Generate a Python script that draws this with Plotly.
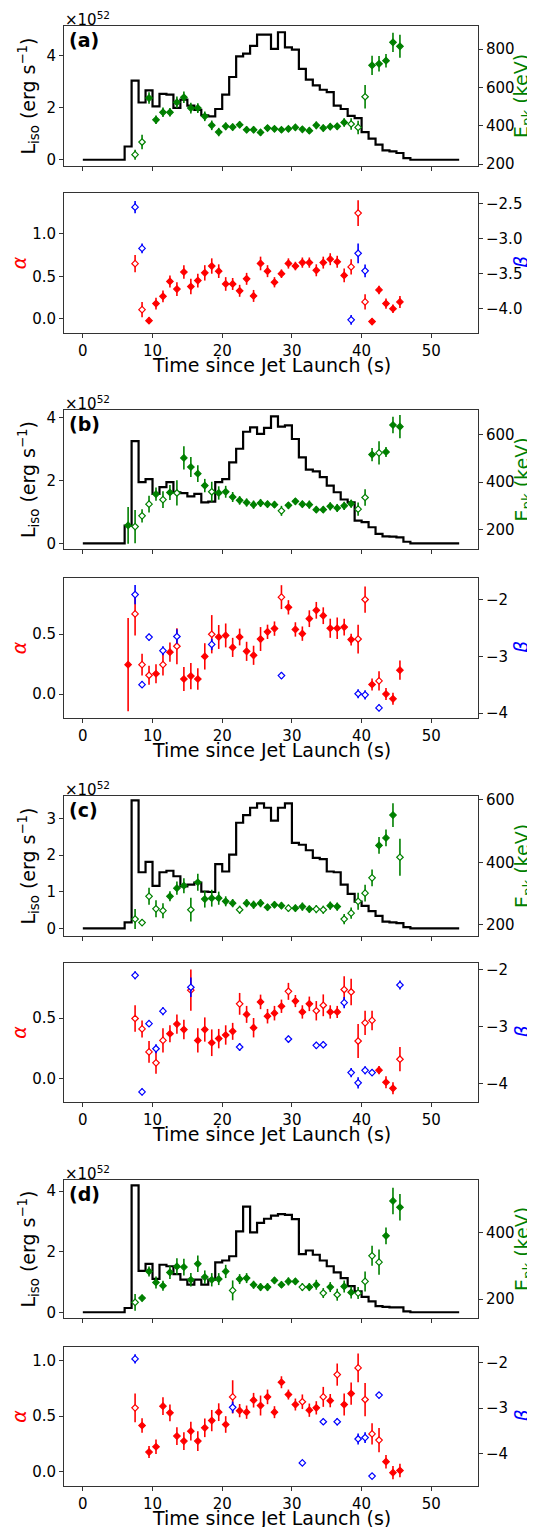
import plotly.graph_objects as go

W, H = 535, 1527
FONT = "DejaVu Sans"

# ---------------- data ----------------
edges = list(range(0, 55))  # 1-s bins, 0..54 s

# L_iso per bin (units of 1e52 erg/s)
liso_a = [0, 0, 0, 0, 0, 0, 0.51, 3.04, 2.2, 2.67, 2.05, 2.53, 2.5, 1.99, 2.31, 2.08, 1.92, 1.71, 1.67, 1.95,
          2.5, 3.18, 3.97, 4.08, 4.38, 4.81, 4.81, 4.26, 4.9, 4.32, 4.23, 3.49, 3.08, 2.86, 2.69, 2.6, 2.08, 1.95,
          1.69, 1.6, 1.06, 0.81, 0.58, 0.36, 0.32, 0.26, 0.06, 0, 0, 0, 0, 0, 0, 0]
liso_b = [0, 0, 0, 0, 0, 0, 0.56, 3.24, 1.94, 2.04, 1.57, 1.78, 1.94, 1.62, 1.59, 1.49, 1.57, 1.30, 1.32, 1.94,
          2.04, 2.57, 3.0, 3.54, 3.68, 3.47, 3.66, 4.03, 3.70, 3.74, 3.31, 2.73, 2.34, 2.28, 2.10, 1.83, 1.62, 1.39,
          1.30, 0.72, 0.67, 0.51, 0.30, 0.22, 0.21, 0.19, 0.05, 0, 0, 0, 0, 0, 0, 0]
liso_c = [0, 0, 0, 0, 0, 0, 0.16, 3.49, 1.53, 1.81, 1.16, 1.53, 1.57, 1.42, 1.14, 1.19, 1.25, 1.00, 0.99, 1.75,
          1.55, 2.01, 2.88, 3.09, 3.29, 3.41, 3.29, 2.94, 3.29, 3.41, 2.33, 2.28, 2.13, 1.92, 1.89, 1.55, 1.53, 1.19,
          0.94, 0.73, 0.61, 0.47, 0.34, 0.18, 0.16, 0.14, 0.03, 0, 0, 0, 0, 0, 0, 0]
liso_d = [0, 0, 0, 0, 0, 0, 0.14, 4.19, 1.37, 1.60, 1.10, 1.57, 1.52, 1.26, 1.08, 0.91, 1.08, 0.91, 1.08, 1.65,
          1.71, 1.85, 2.67, 3.49, 2.64, 2.95, 3.09, 3.19, 3.24, 3.22, 3.08, 1.92, 2.04, 1.90, 1.71, 1.52, 1.32, 1.13,
          0.86, 0.69, 0.51, 0.36, 0.20, 0.18, 0.16, 0.16, 0.03, 0, 0, 0, 0, 0, 0, 0]

# time-resolved spectral parameters
t_a = [7.5 + k for k in range(39)]
t_b = [6.5 + k for k in range(40)]
t_c = [7.5 + k for k in range(39)]
t_d = [7.5 + k for k in range(39)]

epk_a = [249, 315, 544, 431, 470, 470, 522, 548, 492, 492, 449, 402, 367, 397, 393, 405, 379, 379, 365, 388,
         384, 379, 384, 391, 381, 374, 402, 388, 395, 397, 417, 409, 391, 551, 715, 723, 739, 835, 814]
epk_a_err = [26, 38, 30, 22, 25, 22, 30, 30, 28, 25, 25, 25, 22, 20, 18, 18, 18, 18, 18, 15,
             15, 15, 15, 15, 15, 17, 20, 18, 18, 18, 22, 30, 35, 61, 50, 40, 35, 50, 60]
alpha_a = [0.648, 0.109, -0.02, 0.18, 0.265, 0.44, 0.35, 0.55, 0.38, 0.45, 0.54, 0.62, 0.56, 0.41, 0.41, 0.33,
           0.47, 0.27, 0.65, 0.56, 0.43, 0.53, 0.65, 0.62, 0.66, 0.66, 0.57, 0.66, 0.70, 0.67, 0.51, 0.61, 1.24,
           0.20, -0.03, 0.34, 0.18, 0.12, 0.20]
alpha_a_err = [0.10, 0.09, 0.04, 0.07, 0.07, 0.07, 0.08, 0.08, 0.09, 0.08, 0.09, 0.09, 0.08, 0.08, 0.07, 0.07,
               0.07, 0.07, 0.08, 0.07, 0.06, 0.05, 0.06, 0.05, 0.06, 0.06, 0.07, 0.07, 0.07, 0.07, 0.08, 0.09,
               0.15, 0.09, 0.04, 0.05, 0.06, 0.05, 0.07]
band_a = [7.5, 8.5, 38.5, 39.5, 40.5]
beta_a = [-2.55, -3.14, -4.16, -3.21, -3.46]
beta_a_err = [0.086, 0.07, 0.07, 0.14, 0.09]

epk_b = [218, 213, 258, 307, 349, 326, 356, 354, 501, 463, 435, 385, 359, 354, 359, 337, 323, 314, 305, 312,
         307, 305, 279, 302, 319, 307, 305, 284, 284, 298, 291, 300, 309, 286, 335, 515, 522, 526, 639, 632]
epk_b_err = [77, 70, 28, 35, 28, 35, 31, 53, 49, 42, 35, 28, 42, 28, 25, 21, 18, 17, 17, 17,
             14, 14, 21, 14, 14, 14, 17, 14, 14, 17, 17, 17, 17, 28, 35, 28, 49, 21, 35, 49]
alpha_b = [0.246, 0.67, 0.246, 0.157, 0.17, 0.246, 0.35, 0.40, 0.126, 0.15, 0.126, 0.315, 0.50, 0.477, 0.49,
           0.39, 0.477, 0.357, 0.324, 0.46, 0.52, 0.547, 0.81, 0.725, 0.54, 0.505, 0.63, 0.70, 0.655, 0.55, 0.55,
           0.56, 0.455, 0.46, 0.79, 0.08, 0.11, 0.0, -0.04, 0.20]
alpha_b_err = [0.39, 0.18, 0.09, 0.08, 0.08, 0.09, 0.08, 0.15, 0.10, 0.11, 0.09, 0.11, 0.16, 0.10, 0.10, 0.08,
               0.07, 0.08, 0.08, 0.10, 0.06, 0.06, 0.10, 0.06, 0.06, 0.06, 0.07, 0.07, 0.07, 0.08, 0.09, 0.07,
               0.05, 0.12, 0.11, 0.05, 0.08, 0.05, 0.05, 0.08]
band_b = [7.5, 8.5, 9.5, 11.5, 13.5, 18.5, 28.5, 39.5, 40.5, 42.5]
beta_b = [-1.91, -3.50, -2.66, -2.90, -2.65, -2.79, -3.34, -3.66, -3.68, -3.91]
beta_b_err = [0.17, 0.06, 0.06, 0.08, 0.13, 0.10, 0.06, 0.08, 0.08, 0.06]

epk_c = [218, 207, 291, 251, 245, 291, 317, 325, 248, 336, 282, 285, 285, 275, 269, 248, 269, 264, 269, 256,
         264, 261, 253, 253, 258, 250, 250, 248, 261, 258, 218, 237, 275, 301, 350, 454, 478, 551, 416]
epk_c_err = [32, 11, 27, 27, 24, 16, 21, 24, 38, 27, 27, 27, 21, 16, 13, 13, 13, 13, 13, 11,
             11, 11, 11, 11, 13, 11, 13, 13, 13, 13, 16, 18, 27, 27, 27, 27, 27, 38, 59]
alpha_c = [0.496, 0.41, 0.22, 0.13, 0.315, 0.37, 0.45, 0.405, 0.73, 0.315, 0.405, 0.296, 0.33, 0.36, 0.39,
           0.617, 0.53, 0.42, 0.633, 0.515, 0.54, 0.597, 0.72, 0.64, 0.55, 0.617, 0.56, 0.605, 0.55, 0.55, 0.735,
           0.715, 0.31, 0.46, 0.48, 0.07, -0.03, -0.08, 0.16]
alpha_c_err = [0.11, 0.07, 0.09, 0.09, 0.10, 0.07, 0.08, 0.08, 0.17, 0.10, 0.10, 0.11, 0.08, 0.08, 0.07, 0.09,
               0.07, 0.08, 0.06, 0.06, 0.06, 0.055, 0.07, 0.05, 0.055, 0.06, 0.08, 0.09, 0.055, 0.05, 0.11, 0.11,
               0.14, 0.10, 0.08, 0.035, 0.05, 0.05, 0.10]
band_c = [7.5, 8.5, 9.5, 10.5, 11.5, 15.5, 22.5, 29.5, 33.5, 34.5, 37.5, 38.5, 39.5, 40.5, 41.5, 45.5]
beta_c = [-2.10, -4.15, -2.95, -3.39, -2.73, -2.31, -3.36, -3.22, -3.33, -3.32, -2.58, -3.81, -3.99, -3.77,
          -3.81, -2.27]
beta_c_err = [0.07, 0.06, 0.05, 0.08, 0.07, 0.17, 0.07, 0.06, 0.06, 0.06, 0.10, 0.08, 0.10, 0.07, 0.06, 0.08]

epk_d = [190, 203, 283, 250, 240, 280, 298, 296, 258, 306, 266, 258, 260, 283, 226, 260, 263, 243, 236, 236,
         256, 243, 253, 253, 236, 236, 243, 218, 236, 213, 238, 220, 218, 253, 330, 311, 390, 495, 476]
epk_d_err = [25, 10, 15, 18, 15, 20, 25, 25, 20, 25, 20, 20, 18, 20, 30, 15, 15, 12, 12, 12,
             10, 10, 12, 10, 12, 12, 15, 15, 15, 18, 18, 18, 18, 30, 30, 38, 25, 40, 40]
alpha_d = [0.575, 0.416, 0.176, 0.224, 0.59, 0.53, 0.32, 0.275, 0.365, 0.275, 0.395, 0.46, 0.536, 0.425, 0.674,
           0.55, 0.536, 0.644, 0.596, 0.674, 0.536, 0.806, 0.695, 0.605, 0.63, 0.554, 0.575, 0.674, 0.64, 0.875,
           0.605, 0.704, 0.935, 0.65, 0.34, 0.284, 0.089, -0.01, 0.01]
alpha_d_err = [0.13, 0.066, 0.054, 0.066, 0.08, 0.075, 0.08, 0.08, 0.084, 0.09, 0.084, 0.096, 0.08, 0.075, 0.15,
               0.06, 0.06, 0.066, 0.09, 0.066, 0.054, 0.054, 0.045, 0.054, 0.066, 0.06, 0.06, 0.09, 0.06, 0.10,
               0.10, 0.10, 0.13, 0.15, 0.096, 0.11, 0.06, 0.06, 0.06]
band_d = [7.5, 21.5, 31.5, 34.5, 36.5, 39.5, 40.5, 41.5, 42.5]
beta_d = [-1.91, -2.98, -4.21, -3.30, -3.30, -3.68, -3.65, -4.50, -2.71]
beta_d_err = [0.10, 0.125, 0.05, 0.07, 0.08, 0.12, 0.12, 0.06, 0.07]

panel_labels = ["(a)", "(b)", "(c)", "(d)"]
x_ticks = [0, 10, 20, 30, 40, 50]

# ---------------- layout settings ----------------
BOX_X = (56, 470)
boxes = [((18, 158), (185, 325)),
         ((402, 541), (570, 710)),
         ((788, 928), (955, 1094)),
         ((1172, 1310), (1339, 1478))]
liso_rng = [[-0.24, 5.14], [-0.18, 4.23], [-0.21, 3.61], [-0.19, 4.37]]
liso_ticks = [[0, 2, 4], [0, 2, 4], [0, 1, 2, 3], [0, 2, 4]]
epk_rng = [[190, 920], [119, 702], [164, 612], [143, 558]]
epk_ticks = [[200, 400, 600, 800], [200, 400, 600], [200, 400, 600], [200, 400]]
alpha_rng = [[-0.164, 1.475], [-0.20, 0.97], [-0.193, 0.954], [-0.13, 1.124]]
alpha_ticks = [[0.0, 0.5, 1.0], [0.0, 0.5], [0.0, 0.5], [0.0, 0.5, 1.0]]
beta_rng = [[-4.348, -2.348], [-4.088, -1.618], [-4.327, -1.883], [-4.72, -1.647]]
beta_ticks = [[-2.5, -3.0, -3.5, -4.0], [-2, -3, -4], [-2, -3, -4], [-2, -3, -4]]
beta_fmt = ["{:.1f}", "{:.0f}", "{:.0f}", "{:.0f}"]

panels = [
    (liso_a, t_a, epk_a, epk_a_err, alpha_a, alpha_a_err, band_a, beta_a, beta_a_err),
    (liso_b, t_b, epk_b, epk_b_err, alpha_b, alpha_b_err, band_b, beta_b, beta_b_err),
    (liso_c, t_c, epk_c, epk_c_err, alpha_c, alpha_c_err, band_c, beta_c, beta_c_err),
    (liso_d, t_d, epk_d, epk_d_err, alpha_d, alpha_d_err, band_d, beta_d, beta_d_err),
]

TS = 15   # tick font size
LS = 19   # axis-label font size
AX = "#333333"
GREEN, RED, BLUE = "#008000", "#ff0000", "#0000ff"


def px(xp):
    return xp / W


def py(yp):
    return 1 - yp / H


def axname(n, kind):
    return kind if n == 1 else f"{kind}{n}"


fig = go.Figure()
layout = dict(width=W, height=H, margin=dict(l=0, r=0, t=0, b=0), showlegend=False,
              paper_bgcolor="white", plot_bgcolor="white",
              font=dict(family=FONT, size=TS, color="black"))
annotations = []

common_axis = dict(showgrid=False, zeroline=False, showline=True, linecolor=AX, linewidth=1,
                   ticks="outside", ticklen=4, tickwidth=1, tickcolor=AX, automargin=False,
                   tickfont=dict(family=FONT, size=TS, color="black"))


def err_trace(x, y, err, color, filled, xa, ya, xerr=0.3):
    return go.Scatter(
        x=x, y=y, mode="markers", xaxis=xa, yaxis=ya,
        error_y=dict(type="data", array=err, color=color, thickness=1.6, width=0),
        error_x=dict(type="constant", value=xerr, color=color, thickness=1.6, width=0),
        marker=dict(symbol="diamond", size=5,
                    color=[color if f else "white" for f in filled],
                    line=dict(color=color, width=1.2)),
        hoverinfo="skip")


def ann(text, x, y, size, color="black", angle=0, xanchor="center", yanchor="middle"):
    return dict(text=text, x=px(x), y=py(y), xref="paper", yref="paper", xanchor=xanchor,
                yanchor=yanchor, textangle=angle, showarrow=False,
                font=dict(family=FONT, size=size, color=color))


def ytitle(text, color, standoff):
    return dict(text=text, standoff=standoff, font=dict(family=FONT, size=LS, color=color))


for p, (liso, tt, epk, epk_err, alpha, alpha_err, band, beta, beta_err) in enumerate(panels):
    (t_top, t_bot), (b_top, b_bot) = boxes[p]
    filled = [t not in band for t in tt]
    for sub in range(2):
        i = 2 * p + sub
        xn = i + 1
        yl = 2 * i + 1
        yr = 2 * i + 2
        top, bot = (t_top, t_bot) if sub == 0 else (b_top, b_bot)
        cy = (top + bot) / 2
        xa, yla, yra = axname(xn, "x"), axname(yl, "y"), axname(yr, "y")
        layout[axname(xn, "xaxis")] = dict(
            common_axis, domain=[px(BOX_X[0]), px(BOX_X[1])], anchor=yla, range=[-2.7, 56.7],
            tickvals=x_ticks, showticklabels=(sub == 1), mirror=True)
        if sub == 0:
            lrng, lt, ltxt = liso_rng[p], liso_ticks[p], [str(v) for v in liso_ticks[p]]
            rrng, rt, rtxt = epk_rng[p], epk_ticks[p], [str(v) for v in epk_ticks[p]]
            ltit = ytitle("L<sub>iso</sub> (erg s<sup>\u22121</sup>)", "black", 5)
            annotations.append(ann("E<sub>pk</sub> (keV)", 515, cy, LS, color=GREEN, angle=-90))
        else:
            lrng, lt, ltxt = alpha_rng[p], alpha_ticks[p], [f"{v:.1f}" for v in alpha_ticks[p]]
            rrng, rt = beta_rng[p], beta_ticks[p]
            rtxt = [beta_fmt[p].format(v).replace("-", "\u2212") for v in beta_ticks[p]]
            ltit = ytitle("<i>\u03b1</i>", RED, 18)
            annotations.append(ann("<i>\u03b2</i>", 513, cy, LS, color=BLUE, angle=-90))
        layout[axname(yl, "yaxis")] = dict(
            common_axis, domain=[py(bot), py(top)], anchor=xa, range=lrng,
            tickvals=lt, ticktext=ltxt, side="left", title=ltit)
        layout[axname(yr, "yaxis")] = dict(
            common_axis, overlaying=yla, anchor=xa, side="right", range=rrng,
            tickvals=rt, ticktext=rtxt)

        if sub == 0:
            fig.add_trace(go.Scatter(x=edges, y=liso + [liso[-1]], mode="lines", line_shape="hv",
                                     line=dict(color="black", width=2.2), xaxis=xa, yaxis=yla,
                                     hoverinfo="skip"))
            fig.add_trace(err_trace(tt, epk, epk_err, GREEN, filled, xa, yra))
            annotations += [
                ann("\u00d710<sup>52</sup>", BOX_X[0] - 1, top - 19, 15, xanchor="left", yanchor="top"),
                ann(f"<b>{panel_labels[p]}</b>", BOX_X[0] + 3, top + 1, LS, xanchor="left", yanchor="top"),
            ]
        else:
            fig.add_trace(err_trace(tt, alpha, alpha_err, RED, filled, xa, yla))
            fig.add_trace(err_trace(band, beta, beta_err, BLUE, [False] * len(band), xa, yra))
            annotations.append(ann("Time since Jet Launch (s)", 263, bot + 32, 19))

layout["annotations"] = annotations
fig.update_layout(**layout)
fig.write_html("out.html")
